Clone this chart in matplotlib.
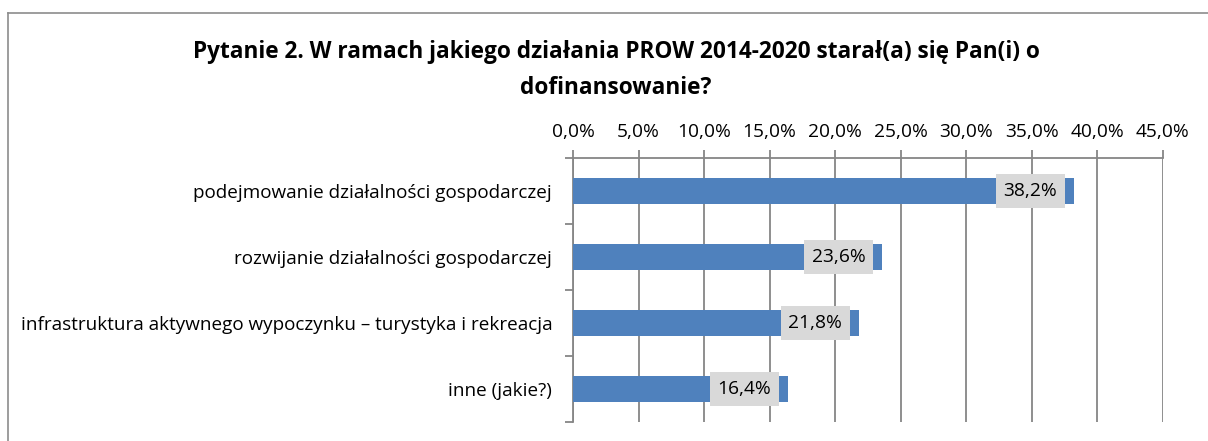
import numpy as np
import matplotlib.pyplot as plt
from matplotlib.lines import Line2D
from matplotlib.ticker import FuncFormatter, MultipleLocator

plt.rcParams['font.family'] = ['Open Sans', 'DejaVu Sans']

categories = [
    "podejmowanie działalności gospodarczej",
    "rozwijanie działalności gospodarczej",
    "infrastruktura aktywnego wypoczynku – turystyka i rekreacja",
    "inne (jakie?)",
]
values = [38.2, 23.6, 21.8, 16.4]
title = "Pytanie 2. W ramach jakiego działania PROW 2014-2020 starał(a) się Pan(i) o\ndofinansowanie?"

BAR = "#4f81bd"
GRIDC = "#868686"
W, H = 1208, 441

fig = plt.figure(figsize=(W / 100, H / 100), dpi=100)
ax = fig.add_axes([573 / W, (H - 422) / H, 590 / W, 264 / H])

y = np.arange(len(categories))
ax.barh(y, values, height=0.39, color=BAR, zorder=3)
ax.set_ylim(len(categories) - 0.5, -0.5)
ax.set_xlim(0, 45)

ax.xaxis.tick_top()
ax.xaxis.set_major_locator(MultipleLocator(5))
ax.xaxis.set_major_formatter(FuncFormatter(lambda v, p: f"{v:.1f}%".replace(".", ",")))
ax.grid(axis="x", color=GRIDC, lw=1.3, zorder=0)
ax.tick_params(axis="x", length=6, width=1.3, color=GRIDC, labelsize=13.8, pad=6)

ax.set_yticks(y)
ax.set_yticklabels(categories, fontsize=13.6)
ax.set_yticks(np.arange(-0.5, len(categories)), minor=True)
ax.tick_params(axis="y", which="major", length=0, pad=15)
ax.tick_params(axis="y", which="minor", length=6, width=1.3, color=GRIDC)

for s in ["right", "bottom"]:
    ax.spines[s].set_visible(False)
for s in ["top", "left"]:
    ax.spines[s].set_color(GRIDC)
    ax.spines[s].set_linewidth(1.3)

for yi, v in zip(y, values):
    ax.annotate(f"{v:.1f}%".replace(".", ","), xy=(v, yi), xytext=(-12, 0),
                textcoords="offset points", ha="right", va="center", fontsize=13.8,
                zorder=5,
                bbox=dict(boxstyle="square,pad=0.4", fc="#d9d9d9", ec="none"))

fig.text(616 / W, 1 - 40 / H, title, ha="center", va="top", fontsize=16.3,
         fontweight="bold", linespacing=1.65)

# chart border (left and top edges visible)
fig.add_artist(Line2D([8 / W, 8 / W], [0, 1 - 12.5 / H], transform=fig.transFigure,
                      color="#8c8c8c", lw=1.2))
fig.add_artist(Line2D([8 / W, 1], [1 - 12.5 / H, 1 - 12.5 / H], transform=fig.transFigure,
                      color="#8c8c8c", lw=1.2))

fig.savefig("out.png", dpi=100)
